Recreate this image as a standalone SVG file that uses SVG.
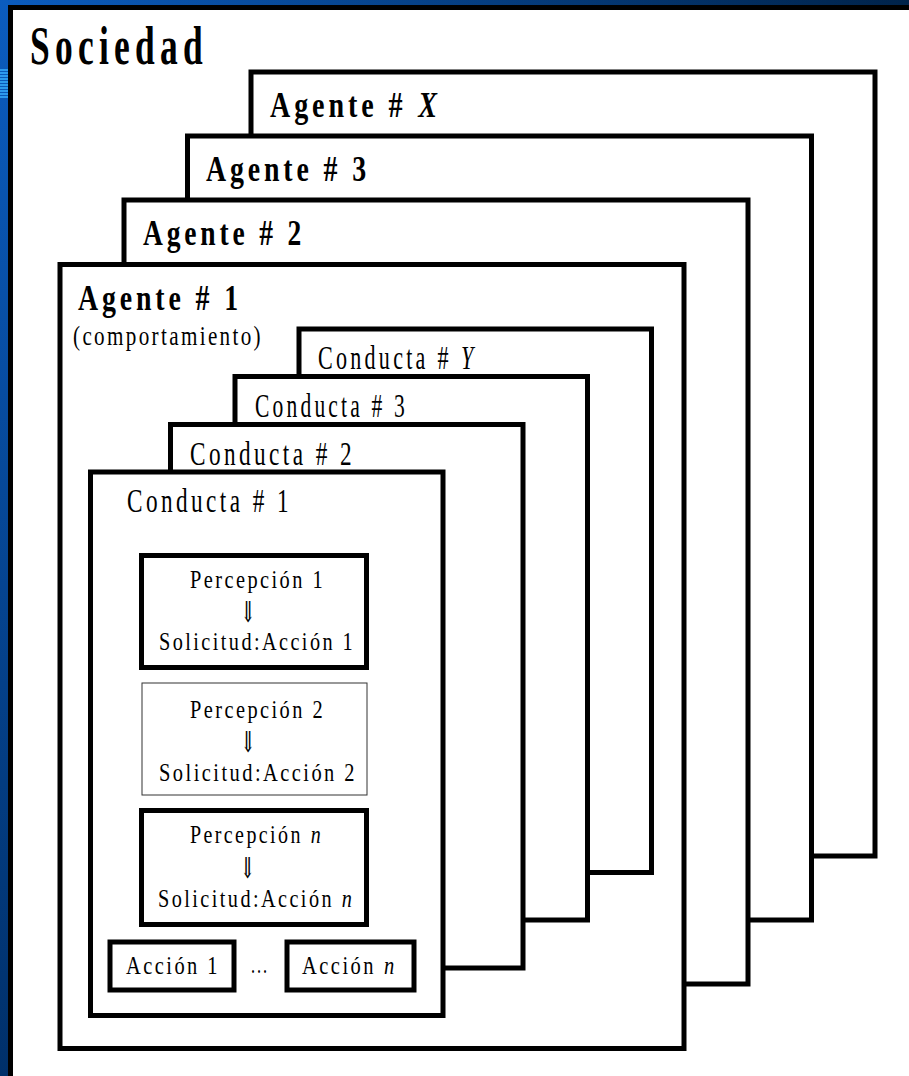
<svg xmlns="http://www.w3.org/2000/svg" width="909" height="1076" viewBox="0 0 909 1076">
<defs>
<linearGradient id="gTop" x1="0" y1="0" x2="1" y2="0"><stop offset="0" stop-color="#0b5cbf"/><stop offset="1" stop-color="#00234a"/></linearGradient>
<linearGradient id="gLeft" x1="0" y1="0" x2="0" y2="1"><stop offset="0" stop-color="#0b5cbf"/><stop offset="1" stop-color="#00306a"/></linearGradient>
<style>
.t{font-family:"Liberation Serif","DejaVu Serif",serif;fill:#000}
.soc{font-size:54px;font-weight:bold;letter-spacing:8px}
.ag{font-size:36px;font-weight:bold;letter-spacing:5px}
.box{fill:#fff;stroke:#000;stroke-width:5}
.cd{font-size:34px;letter-spacing:5px}
.cm{font-size:27px;letter-spacing:3px}
.in{font-size:25px;letter-spacing:3px}
.thin{fill:#fff;stroke:#333;stroke-width:1}
.arr{font-size:29px;font-family:"DejaVu Serif","Liberation Serif",serif}
.it{font-style:italic}
.stripe{stroke:#3ab0ff;stroke-width:1.5}
</style>
</defs>
<rect width="909" height="1076" fill="#fff"/>
<g id="frame">
<rect x="0" y="0" width="909" height="5" fill="url(#gTop)"/>
<rect x="0" y="0" width="8" height="1076" fill="url(#gLeft)"/>
<g class="stripe">
<line x1="0" y1="70" x2="8" y2="70"/><line x1="0" y1="73" x2="8" y2="73"/><line x1="0" y1="76" x2="8" y2="76"/><line x1="0" y1="79" x2="8" y2="79"/><line x1="0" y1="82" x2="8" y2="82"/><line x1="0" y1="85" x2="8" y2="85"/><line x1="0" y1="88" x2="8" y2="88"/><line x1="0" y1="91" x2="8" y2="91"/><line x1="0" y1="94" x2="8" y2="94"/><line x1="0" y1="97" x2="8" y2="97"/>
</g>
<rect x="8" y="5" width="901" height="5" fill="#000"/>
<rect x="8" y="5" width="5" height="1071" fill="#000"/>
</g>
<g id="sociedad">
<text class="t soc" x="30" y="64" textLength="178" lengthAdjust="spacingAndGlyphs">Sociedad</text>
</g>
<g id="agenteX">
<rect class="box" x="251" y="72" width="624" height="784"/>
<g transform="translate(270,117) scale(0.78,1)">
<text class="t ag" x="0" y="0">Agente #</text>
<text class="t ag it" x="190" y="0">X</text>
</g>
</g>
<g id="agente3">
<rect class="box" x="187.5" y="136" width="624" height="784"/>
<text class="t ag" x="206" y="181" textLength="164" lengthAdjust="spacingAndGlyphs">Agente # 3</text>
</g>
<g id="agente2">
<rect class="box" x="124" y="200" width="624" height="784"/>
<text class="t ag" x="143" y="245" textLength="162" lengthAdjust="spacingAndGlyphs">Agente # 2</text>
</g>
<g id="agente1">
<rect class="box" x="60" y="264.5" width="624" height="784"/>
<text class="t ag" x="78" y="310" textLength="164" lengthAdjust="spacingAndGlyphs">Agente # 1</text>
<text class="t cm" x="73" y="345" textLength="190" lengthAdjust="spacingAndGlyphs">(comportamiento)</text>
</g>
<g id="conductaY">
<rect class="box" x="299" y="329" width="352.5" height="543.5"/>
<g transform="translate(318,369) scale(0.65,1)">
<text class="t cd" x="0" y="0">Conducta #</text>
<text class="t cd it" x="220" y="0">Y</text>
</g>
</g>
<g id="conducta3">
<rect class="box" x="235" y="376.5" width="352.5" height="543.5"/>
<text class="t cd" x="255" y="417" textLength="153" lengthAdjust="spacingAndGlyphs">Conducta # 3</text>
</g>
<g id="conducta2">
<rect class="box" x="170.5" y="424.5" width="352.5" height="543.5"/>
<text class="t cd" x="190" y="465" textLength="165" lengthAdjust="spacingAndGlyphs">Conducta # 2</text>
</g>
<g id="conducta1">
<rect class="box" x="90.5" y="472" width="352.5" height="543.5"/>
<text class="t cd" x="127" y="512" textLength="165" lengthAdjust="spacingAndGlyphs">Conducta # 1</text>
</g>
<g id="regla1">
<rect class="box" x="141.5" y="555.5" width="225" height="112"/>
<text class="t in" x="190" y="588" textLength="135" lengthAdjust="spacingAndGlyphs">Percepción 1</text>
<text class="t arr" x="240.5" y="622" textLength="15" lengthAdjust="spacingAndGlyphs">⇓</text>
<text class="t in" x="159" y="650" textLength="196" lengthAdjust="spacingAndGlyphs">Solicitud:Acción 1</text>
</g>
<g id="regla2">
<rect class="thin" x="142" y="683" width="225" height="112"/>
<text class="t in" x="190" y="718" textLength="135" lengthAdjust="spacingAndGlyphs">Percepción 2</text>
<text class="t arr" x="240.5" y="752" textLength="15" lengthAdjust="spacingAndGlyphs">⇓</text>
<text class="t in" x="159" y="781" textLength="198" lengthAdjust="spacingAndGlyphs">Solicitud:Acción 2</text>
</g>
<g id="reglaN">
<rect class="box" x="141.5" y="810.5" width="225" height="114"/>
<g transform="translate(190,843) scale(0.8,1)">
<text class="t in" x="0" y="0">Percepción</text>
<text class="t in it" x="151" y="0">n</text>
</g>
<text class="t arr" x="240" y="878" textLength="15" lengthAdjust="spacingAndGlyphs">⇓</text>
<g transform="translate(158,907) scale(0.81,1)">
<text class="t in" x="0" y="0">Solicitud:Acción</text>
<text class="t in it" x="227" y="0">n</text>
</g>
</g>
<g id="accion1">
<rect class="box" x="110" y="942" width="124" height="48"/>
<text class="t in" x="126" y="974" textLength="94" lengthAdjust="spacingAndGlyphs">Acción 1</text>
</g>
<g id="ellipsis">
<text class="t in" x="251" y="973" textLength="18" lengthAdjust="spacingAndGlyphs">...</text>
</g>
<g id="accionN">
<rect class="box" x="287" y="942" width="127" height="48"/>
<g transform="translate(302,974) scale(0.82,1)">
<text class="t in" x="0" y="0">Acción</text>
<text class="t in it" x="100" y="0">n</text>
</g>
</g>
<g id="connectors"/>
</svg>
